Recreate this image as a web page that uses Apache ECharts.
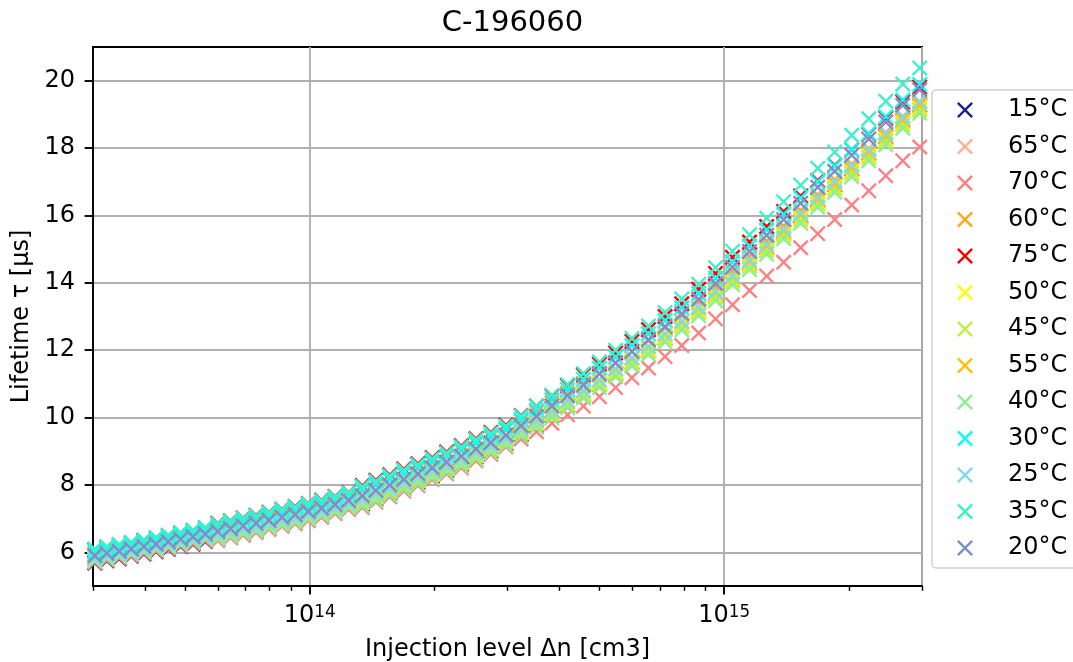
<!DOCTYPE html>
<html><head><meta charset="utf-8">
<script src="https://cdn.jsdelivr.net/npm/echarts@6/dist/echarts.min.js"></script>
<style>html,body{margin:0;padding:0;background:#fff}#c{width:1073px;height:662px}</style>
</head><body><div id="c"></div>
<script>
// Injection level Δn [cm^-3] (shared sampling of all curves)
const injection = [3.03e13,3.24e13,3.47e13,3.71e13,3.98e13,4.26e13,4.56e13,4.88e13,5.23e13,5.60e13,
  6.00e13,6.44e13,6.91e13,7.42e13,7.97e13,8.57e13,9.22e13,9.92e13,
  1.068e14,1.151e14,1.241e14,1.339e14,1.444e14,1.560e14,1.686e14,1.824e14,1.974e14,2.139e14,2.321e14,2.518e14,2.735e14,2.974e14,
  3.235e14,3.524e14,3.840e14,4.188e14,4.574e14,4.999e14,5.469e14,5.989e14,6.564e14,7.198e14,7.899e14,8.675e14,9.528e14,
  1.047e15,1.151e15,1.266e15,1.391e15,1.529e15,1.681e15,1.847e15,2.030e15,2.232e15,2.453e15,2.696e15,2.962e15];

const temps = ['15°C','65°C','70°C','60°C','75°C','50°C','45°C','55°C','40°C','30°C','25°C','35°C','20°C'];
const colors = ['#1f1f90','#ffb09a','#ff8080','#ffa520','#ff0000','#ffff00','#bff23c','#ffc107','#90ee90','#00ffff','#87d8ea','#40eecc','#7b8fcb'];

// Lifetime τ [µs]
const t15 = [5.68,5.75,5.81,5.88,5.95,6.02,6.09,6.17,6.24,6.32,6.38,6.46,6.54,6.62,6.71,6.80,6.88,6.97,7.07,7.18,7.30,7.43,7.59,7.75,7.92,8.08,8.26,8.43,8.61,8.82,9.01,9.23,9.50,9.77,10.07,10.37,10.67,10.99,11.31,11.65,11.99,12.37,12.74,13.16,13.63,14.10,14.56,15.03,15.49,15.97,16.44,16.90,17.37,17.84,18.34,18.83,19.28];
const t65 = [5.80,5.87,5.93,6.00,6.07,6.14,6.21,6.29,6.36,6.44,6.47,6.55,6.63,6.71,6.80,6.89,6.97,7.06,7.16,7.27,7.39,7.48,7.64,7.80,7.97,8.13,8.31,8.48,8.66,8.87,9.06,9.28,9.55,9.82,10.10,10.40,10.70,11.02,11.34,11.66,12.00,12.38,12.75,13.17,13.62,14.09,14.55,15.02,15.48,15.94,16.41,16.87,17.34,17.81,18.29,18.78,19.23];
const t70 = [5.70,5.77,5.83,5.90,5.97,6.04,6.11,6.19,6.26,6.34,6.35,6.43,6.51,6.59,6.68,6.77,6.85,6.94,7.04,7.15,7.27,7.33,7.49,7.65,7.82,7.98,8.16,8.33,8.51,8.72,8.91,9.13,9.36,9.58,9.83,10.08,10.34,10.62,10.89,11.18,11.47,11.81,12.14,12.51,12.93,13.35,13.77,14.20,14.61,15.04,15.46,15.88,16.31,16.73,17.18,17.62,18.03];
const t60 = [5.95,6.02,6.08,6.15,6.22,6.29,6.36,6.44,6.51,6.59,6.72,6.80,6.88,6.96,7.05,7.14,7.22,7.31,7.41,7.52,7.64,7.83,7.99,8.15,8.32,8.48,8.66,8.83,9.01,9.22,9.41,9.63,9.89,10.15,10.43,10.72,11.01,11.32,11.63,11.95,12.28,12.65,13.01,13.42,13.87,14.33,14.78,15.24,15.69,16.15,16.61,17.06,17.52,17.98,18.46,18.94,19.38];
const t75 = [6.08,6.15,6.21,6.28,6.35,6.42,6.49,6.57,6.64,6.72,6.86,6.94,7.02,7.10,7.19,7.28,7.36,7.45,7.55,7.66,7.78,7.98,8.14,8.30,8.47,8.63,8.81,8.98,9.16,9.37,9.56,9.78,10.06,10.34,10.64,10.95,11.26,11.59,11.92,12.26,12.61,13.00,13.38,13.81,14.28,14.76,15.21,15.67,16.12,16.58,17.04,17.49,17.95,18.41,18.89,19.37,19.81];
const t50 = [5.85,5.92,5.98,6.05,6.12,6.19,6.26,6.34,6.41,6.49,6.52,6.60,6.68,6.76,6.85,6.94,7.02,7.11,7.21,7.32,7.44,7.53,7.69,7.85,8.02,8.18,8.36,8.53,8.71,8.92,9.11,9.33,9.59,9.86,10.14,10.44,10.73,11.04,11.36,11.68,12.02,12.39,12.75,13.17,13.62,14.09,14.54,15.00,15.46,15.92,16.39,16.84,17.30,17.77,18.25,18.74,19.18];
const t45 = [5.80,5.87,5.93,6.00,6.07,6.14,6.21,6.29,6.36,6.44,6.47,6.55,6.63,6.71,6.80,6.89,6.97,7.06,7.16,7.27,7.39,7.48,7.64,7.80,7.97,8.13,8.31,8.48,8.66,8.87,9.06,9.28,9.54,9.81,10.09,10.39,10.68,10.99,11.31,11.63,11.97,12.34,12.70,13.12,13.57,14.04,14.49,14.95,15.41,15.87,16.34,16.79,17.25,17.72,18.20,18.69,19.13];
const t55 = [5.88,5.95,6.01,6.08,6.15,6.22,6.29,6.37,6.44,6.52,6.57,6.65,6.73,6.81,6.90,6.99,7.07,7.16,7.26,7.37,7.49,7.60,7.76,7.92,8.09,8.25,8.43,8.60,8.78,8.99,9.18,9.40,9.67,9.93,10.22,10.51,10.81,11.12,11.44,11.76,12.10,12.47,12.84,13.25,13.71,14.17,14.63,15.09,15.55,16.01,16.48,16.93,17.40,17.86,18.35,18.83,19.28];
const t40 = [5.75,5.82,5.88,5.95,6.02,6.09,6.16,6.24,6.31,6.39,6.40,6.48,6.56,6.64,6.73,6.82,6.90,6.99,7.09,7.20,7.32,7.38,7.54,7.70,7.87,8.03,8.21,8.38,8.56,8.77,8.96,9.18,9.44,9.71,9.99,10.29,10.58,10.89,11.21,11.53,11.87,12.24,12.60,13.02,13.47,13.94,14.39,14.85,15.31,15.77,16.24,16.69,17.15,17.62,18.10,18.59,19.03];
const t30 = [6.02,6.09,6.15,6.22,6.29,6.36,6.43,6.51,6.58,6.66,6.77,6.85,6.93,7.01,7.10,7.19,7.27,7.36,7.46,7.57,7.69,7.86,8.02,8.18,8.35,8.51,8.69,8.86,9.04,9.25,9.44,9.66,9.94,10.22,10.52,10.83,11.14,11.47,11.80,12.14,12.49,12.88,13.26,13.69,14.14,14.62,15.09,15.57,16.04,16.52,17.00,17.47,17.95,18.43,18.93,19.43,19.89];
const t25 = [5.82,5.89,5.95,6.02,6.09,6.16,6.23,6.31,6.38,6.46,6.52,6.60,6.68,6.76,6.85,6.94,7.02,7.11,7.21,7.32,7.44,7.56,7.72,7.88,8.05,8.21,8.39,8.56,8.74,8.95,9.14,9.36,9.63,9.90,10.19,10.49,10.79,11.11,11.44,11.77,12.11,12.49,12.86,13.28,13.74,14.21,14.67,15.14,15.60,16.07,16.54,17.01,17.48,17.95,18.44,18.93,19.38];
const t35 = [6.10,6.17,6.23,6.30,6.37,6.44,6.51,6.59,6.66,6.74,6.85,6.93,7.01,7.09,7.18,7.27,7.35,7.44,7.54,7.65,7.77,7.95,8.11,8.27,8.44,8.60,8.78,8.95,9.13,9.34,9.53,9.75,10.05,10.34,10.66,10.98,11.31,11.65,12.00,12.35,12.72,13.12,13.52,13.96,14.45,14.94,15.43,15.92,16.41,16.90,17.40,17.88,18.38,18.87,19.39,19.90,20.38];
const t20 = [5.90,5.97,6.03,6.10,6.17,6.24,6.31,6.39,6.46,6.54,6.62,6.70,6.78,6.86,6.95,7.04,7.12,7.21,7.31,7.42,7.54,7.68,7.84,8.00,8.17,8.33,8.51,8.68,8.86,9.07,9.26,9.48,9.76,10.04,10.34,10.65,10.96,11.29,11.62,11.96,12.31,12.70,13.08,13.51,13.98,14.46,14.93,15.41,15.88,16.36,16.84,17.31,17.79,18.27,18.77,19.27,19.73];

const lifetimes = [t15,t65,t70,t60,t75,t50,t45,t55,t40,t30,t25,t35,t20];

const yTicks = [6,8,10,12,14,16,18,20];
const xMajorTicks = [1e14,1e15];
const xMinorTicks = [3e13,4e13,5e13,6e13,7e13,8e13,9e13,2e14,3e14,4e14,5e14,6e14,7e14,8e14,9e14,2e15,3e15];
const xMin = 3e13, xMax = 3e15;

const F = 'DejaVu Sans';
const XSYM = 'path://M0,10.6L10.6,0L50,39.4L89.4,0L100,10.6L60.6,50L100,89.4L89.4,100L50,60.6L10.6,100L0,89.4L39.4,50Z';
const LW = 1.9;

const chart = echarts.init(document.getElementById('c'), null, {renderer:'canvas'});
const option = {
  animation:false,
  backgroundColor:'#fff',
  title:{text:'C-196060', left:507.5, top:4, textAlign:'center',
    textStyle:{fontFamily:F,fontSize:29,fontWeight:'normal',color:'#000'}},
  grid:{left:93,right:151,top:47,bottom:76,show:true,borderColor:'#000',borderWidth:LW,backgroundColor:'transparent',
    containLabel:false, outerBoundsMode:'none'},
  legend:{orient:'vertical', left:932, top:90, padding:[8,40,8,25], itemGap:12.5,
    itemWidth:16, itemHeight:16, selectedMode:false,
    backgroundColor:'rgba(255,255,255,0.8)', borderColor:'#d0d0d0', borderWidth:1.5, borderRadius:4,
    data: temps.map(t=>({name:t, icon:XSYM})),
    formatter: n=>'{a|'+n+'}',
    textStyle:{fontFamily:F,fontSize:24,color:'#000',
      rich:{a:{fontFamily:F,fontSize:24,lineHeight:21,padding:[0,0,0,30],color:'#000'}}}},
  xAxis:[
    {type:'log', logBase:10, min:xMin, max:xMax, position:'bottom',
     axisLine:{show:true, lineStyle:{color:'#000', width:LW}}, axisTick:{show:false},
     splitLine:{show:true, lineStyle:{color:'#b0b0b0', width:LW}},
     axisLabel:{margin:18, showMinLabel:false, showMaxLabel:false,
       formatter: v=>{const e=Math.round(Math.log10(v)); return Math.abs(v/Math.pow(10,e)-1)<1e-6 ? '{b|10}{s|'+e+'}' : '';},
       rich:{b:{fontFamily:F,fontSize:24,lineHeight:24,verticalAlign:'top',color:'#000'},
             s:{fontFamily:F,fontSize:16.8,lineHeight:16.8,verticalAlign:'top',color:'#000'}}},
     name:'Injection level Δn [cm3]', nameLocation:'middle', nameGap:52,
     nameTextStyle:{fontFamily:F,fontSize:24,color:'#000'}},
    {type:'value', min:Math.log10(xMin), max:Math.log10(xMax), position:'bottom',
     axisLine:{show:false}, axisLabel:{show:false}, splitLine:{show:false},
     axisTick:{show:true, length:8.4, lineStyle:{color:'#000',width:LW}, customValues: xMajorTicks.map(Math.log10)}},
    {type:'value', min:Math.log10(xMin), max:Math.log10(xMax), position:'bottom',
     axisLine:{show:false}, axisLabel:{show:false}, splitLine:{show:false},
     axisTick:{show:true, length:4.8, lineStyle:{color:'#000',width:1.45}, customValues: xMinorTicks.map(Math.log10)}}
  ],
  yAxis:{type:'value', min:5, max:21, splitNumber:8, position:'left',
    axisLine:{show:true, lineStyle:{color:'#000', width:LW}},
    axisTick:{show:true, length:8.4, lineStyle:{color:'#000',width:LW}, customValues:yTicks},
    axisLabel:{customValues:yTicks, margin:18, fontFamily:F, fontSize:24, color:'#000'},
    splitLine:{show:true, lineStyle:{color:'#b0b0b0', width:LW}},
    name:'Lifetime τ [µs]', nameLocation:'middle', nameGap:54, nameRotate:90,
    nameTextStyle:{fontFamily:F,fontSize:24,color:'#000'}},
  series: temps.map((t,i)=>({
    type:'scatter', name:t, xAxisIndex:0, yAxisIndex:0,
    data: injection.map((x,j)=>[x, lifetimes[i][j]]),
    symbol:XSYM, symbolSize:16,
    itemStyle:{color:colors[i], opacity:1},
    emphasis:{disabled:true}
  }))
};
chart.setOption(option);
</script>
</body></html>
